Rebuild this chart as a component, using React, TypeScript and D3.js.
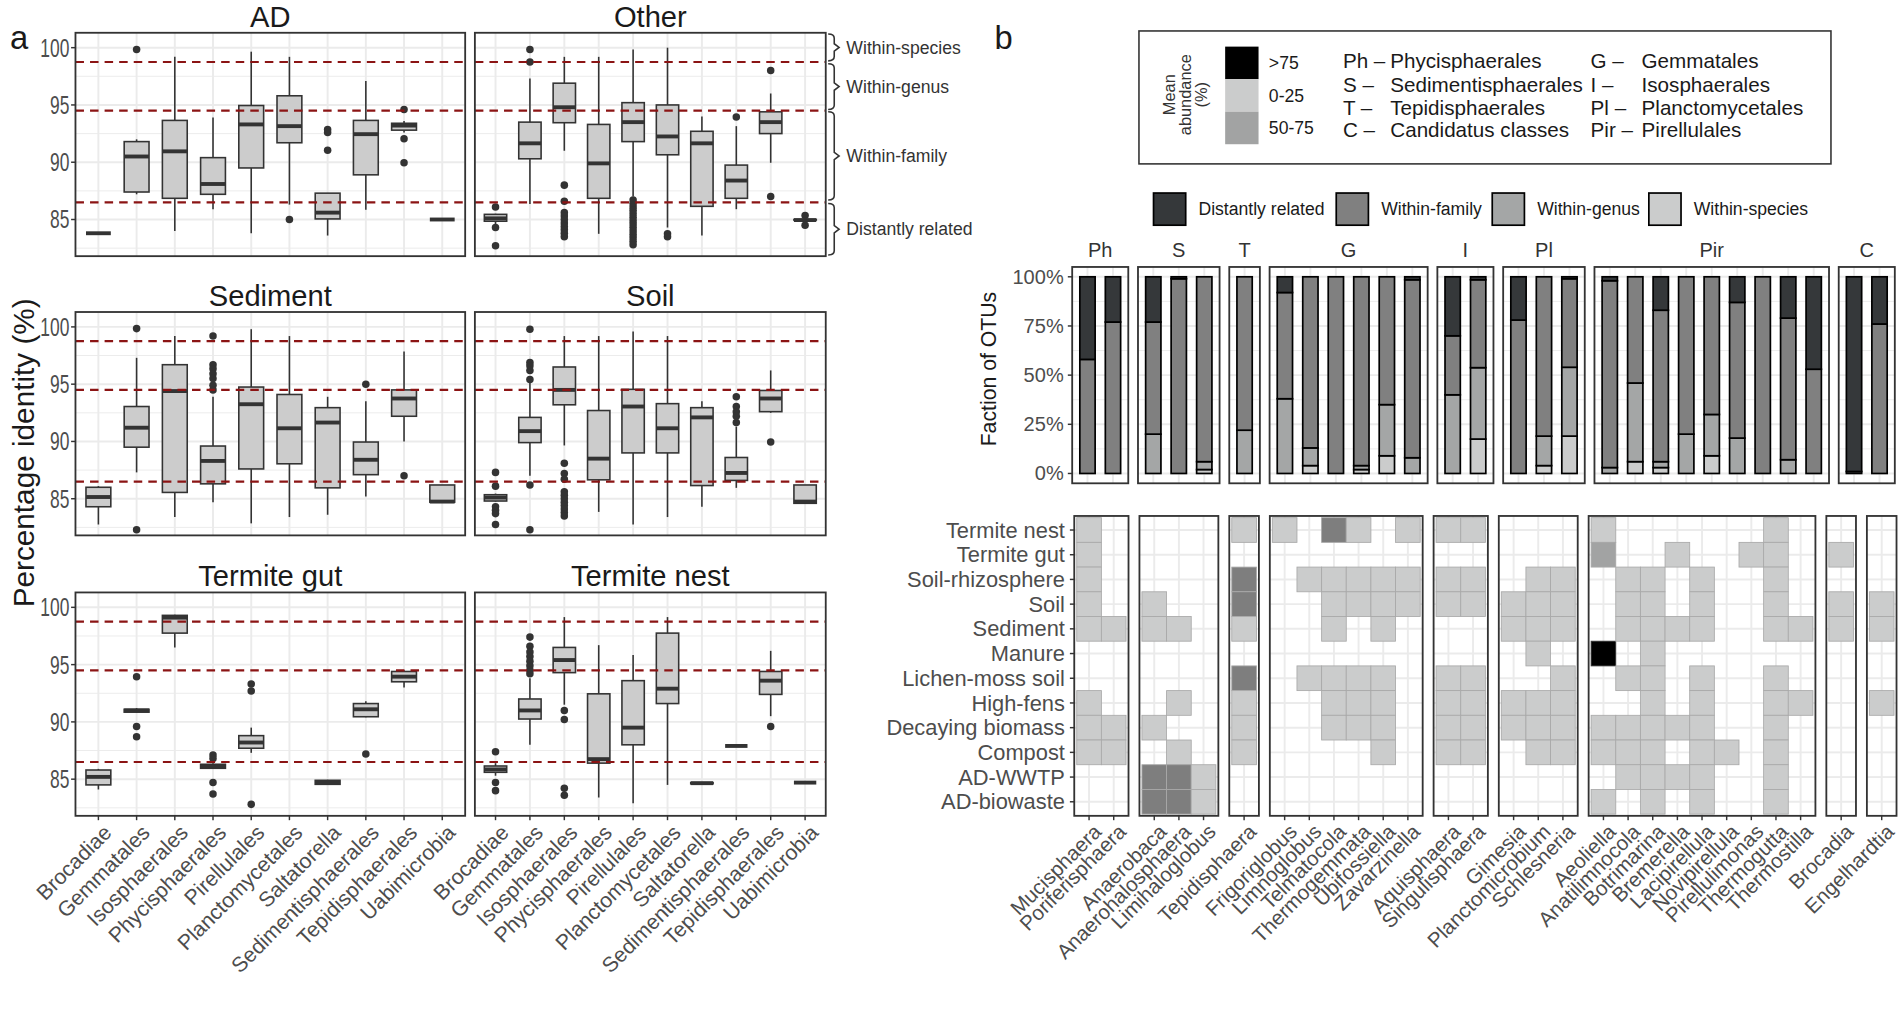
import React, { useEffect, useRef } from 'react';
import * as d3 from 'd3';

// ---- panel a: percentage identity boxplots ----
const orders = ['Brocadiae', 'Gemmatales', 'Isosphaerales', 'Phycisphaerales', 'Pirellulales',
  'Planctomycetales', 'Saltatorella', 'Sedimentisphaerales', 'Tepidisphaerales', 'Uabimicrobia'];

// [lower whisker, q1, median, q3, upper whisker, outliers]
type Stat = [number, number, number, number, number, number[]] | null;

const adStats: Stat[] = [
  [83.8, 83.8, 83.8, 83.8, 83.8, []],
  [87.2, 87.4, 90.5, 91.8, 92.0, [99.85]],
  [84.0, 86.85, 90.95, 93.65, 99.2, []],
  [85.9, 87.2, 88.1, 90.4, 93.9, []],
  [83.8, 89.5, 93.3, 94.95, 99.65, []],
  [86.3, 91.7, 93.15, 95.8, 99.2, [85.0]],
  [83.6, 85.05, 85.6, 87.3, 87.3, [92.85, 92.6, 91.05]],
  [85.85, 88.9, 92.45, 93.65, 97.1, []],
  [92.6, 92.8, 93.2, 93.4, 93.6, [94.6, 92.05, 89.95]],
  [85.0, 85.0, 85.0, 85.0, 85.0, []],
];
const otherStats: Stat[] = [
  [84.6, 84.85, 85.1, 85.45, 85.5, [86.1, 84.3, 82.7]],
  [86.35, 90.3, 91.65, 93.5, 97.3, [99.85, 98.75]],
  [91.0, 93.45, 94.8, 96.9, 99.2, [88.0, 86.6, 85.6, 85.3, 85.0, 84.7, 84.4, 84.1, 83.8, 83.5]],
  [83.75, 86.85, 89.9, 93.3, 99.2, []],
  [87.0, 91.8, 93.5, 95.2, 99.85, [86.7, 86.4, 86.1, 85.8, 85.5, 85.2, 84.9, 84.6, 84.3, 84.0, 83.7, 83.4, 83.1, 82.8]],
  [84.3, 90.65, 92.25, 95.0, 100.0, [83.75, 83.5]],
  [83.6, 86.15, 91.65, 92.7, 94.0, []],
  [85.9, 86.85, 88.4, 89.75, 93.15, [93.95]],
  [89.95, 92.5, 93.5, 94.4, 96.0, [98.0, 87.0]],
  [84.9, 84.95, 84.95, 85.0, 85.05, [85.35, 84.5]],
];
const sedimentStats: Stat[] = [
  [82.75, 84.3, 85.15, 86.0, 86.1, []],
  [87.3, 89.5, 91.2, 93.05, 97.3, [99.85, 82.3]],
  [83.4, 85.55, 94.4, 96.7, 99.2, []],
  [84.7, 86.3, 88.3, 89.6, 93.9, [99.2, 96.7, 96.35, 95.9, 95.5, 94.9, 94.5]],
  [82.85, 87.6, 93.25, 94.75, 99.8, []],
  [83.4, 88.05, 91.15, 94.1, 99.2, []],
  [83.6, 85.95, 91.65, 92.95, 93.9, []],
  [85.2, 87.1, 88.4, 89.95, 93.5, [95.0]],
  [90.0, 92.2, 93.75, 94.5, 97.85, [87.0]],
  [84.7, 84.7, 84.75, 86.2, 86.2, []],
];
const soilStats: Stat[] = [
  [84.75, 84.8, 85.1, 85.35, 85.45, [87.3, 86.1, 84.3, 84.0, 83.7, 82.75]],
  [87.0, 89.9, 90.9, 92.1, 95.1, [99.8, 96.9, 96.6, 96.2, 95.4, 86.2, 82.3]],
  [89.65, 93.2, 94.5, 96.5, 99.2, [88.1, 87.2, 86.7, 85.6, 85.3, 85.0, 84.7, 84.4, 84.1, 83.8, 83.5]],
  [83.85, 86.65, 88.5, 92.7, 99.2, []],
  [82.75, 89.0, 93.05, 94.55, 99.6, []],
  [83.4, 89.0, 91.15, 93.3, 99.2, []],
  [84.3, 86.15, 92.1, 92.95, 93.5, []],
  [85.95, 86.6, 87.25, 88.6, 91.3, [93.9, 93.05, 92.6, 92.2, 91.65]],
  [92.5, 92.6, 93.75, 94.45, 96.2, [89.95]],
  [84.6, 84.6, 84.75, 86.2, 86.2, []],
];
const termiteGutStats: Stat[] = [
  [84.1, 84.5, 85.2, 85.8, 85.9, []],
  [90.8, 90.85, 91.0, 91.1, 91.2, [93.95, 89.6, 88.7]],
  [96.5, 97.75, 99.1, 99.3, 99.35, []],
  [85.9, 85.95, 86.1, 86.3, 86.4, [87.1, 86.8, 84.7, 83.7]],
  [87.3, 87.7, 88.2, 88.8, 89.5, [93.3, 92.7, 82.8]],
  null,
  [84.5, 84.55, 84.7, 84.9, 84.95, []],
  [90.4, 90.45, 91.1, 91.6, 91.8, [87.2]],
  [93.0, 93.5, 93.95, 94.4, 94.5, []],
  null,
];
const termiteNestStats: Stat[] = [
  [85.3, 85.6, 85.85, 86.15, 86.4, [87.4, 84.7, 84.0]],
  [88.0, 90.25, 91.0, 92.0, 93.8, [97.4, 96.6, 96.1, 95.7, 95.3, 94.9, 94.5, 94.2]],
  [91.5, 94.3, 95.4, 96.5, 99.15, [91.0, 90.2, 84.2, 83.6]],
  [83.4, 86.4, 86.75, 92.45, 96.7, []],
  [82.9, 88.0, 89.5, 93.6, 95.85, []],
  [84.5, 91.6, 92.9, 97.75, 99.15, []],
  [84.6, 84.6, 84.65, 84.7, 84.7, []],
  [87.9, 87.9, 87.9, 87.9, 87.9, []],
  [90.5, 92.4, 93.6, 94.4, 96.2, [89.6]],
  [84.7, 84.7, 84.7, 84.7, 84.7, []],
];

const identityTicks = [85, 90, 95, 100];
const identityMinor = [82.5, 87.5, 92.5, 97.5];
const thresholds = [98.75, 94.5, 86.5];
const bandLabels = ['Within-species', 'Within-genus', 'Within-family', 'Distantly related'];
const bandRanges: [number, number][] = [[98.85, 101.2], [94.6, 98.6], [86.7, 94.4], [81.9, 86.4]];

// ---- panel b: genera ----
const genera = ['Mucisphaera', 'Poriferisphaera', 'Anaerobaca', 'Anaerohalosphaera', 'Limihaloglobus',
  'Tepidisphaera', 'Frigoriglobus', 'Limnoglobus', 'Telmatocola', 'Thermogemmata', 'Ubifossiella',
  'Zavarzinella', 'Aquisphaera', 'Singulisphaera', 'Gimesia', 'Planctomicrobium', 'Schlesneria',
  'Aeoliella', 'Anatilimnocola', 'Botrimarina', 'Bremerella', 'Lacipirellula', 'Novipirellula',
  'Pirellulimonas', 'Thermogutta', 'Thermostilla', 'Brocadia', 'Engelhardtia'];
const barFacet = ['Ph', 'Ph', 'S', 'S', 'S', 'T', 'G', 'G', 'G', 'G', 'G', 'G', 'I', 'I', 'Pl', 'Pl', 'Pl',
  'Pir', 'Pir', 'Pir', 'Pir', 'Pir', 'Pir', 'Pir', 'Pir', 'Pir', 'C', 'C'];
const heatFacet = ['Ph', 'Ph', 'S', 'S', 'S', 'T', 'G', 'G', 'G', 'G', 'G', 'G', 'I', 'I', 'Pl', 'Pl', 'Pl',
  'Pir', 'Pir', 'Pir', 'Pir', 'Pir', 'Pir', 'Pir', 'Pir', 'Pir', 'Bro', 'Eng'];

// fraction of OTUs (%)
const distantPct = [42, 23, 23, 1, 0, 0, 8, 0, 0, 0, 0, 1.5, 30, 1.5, 22, 0, 1, 2, 0, 17, 0, 0, 13, 0, 21, 47, 99, 24];
const familyPct = [58, 77, 57, 99, 94, 78, 54, 87, 100, 96, 65, 90.5, 30, 44.7, 78, 81, 45, 95, 54, 77, 80, 70, 69, 100, 72, 53, 1, 76];
const genusPct = [0, 0, 20, 0, 4, 22, 38, 9, 0, 2, 26, 8, 40, 36.3, 0, 15, 35, 3, 40, 3, 20, 21, 18, 0, 7, 0, 0, 0];
const speciesPct = [0, 0, 0, 0, 2, 0, 0, 4, 0, 2, 9, 0, 0, 17.5, 0, 4, 19, 0, 6, 3, 0, 9, 0, 0, 0, 0, 0, 0];
const relatedness = ['Distantly related', 'Within-family', 'Within-genus', 'Within-species'];
const relatedColors = ['#35383a', '#808080', '#a4a6a6', '#cbcccc'];
const fractionTicks = [0, 25, 50, 75, 100];

const habitats = ['Termite nest', 'Termite gut', 'Soil-rhizosphere', 'Soil', 'Sediment', 'Manure',
  'Lichen-moss soil', 'High-fens', 'Decaying biomass', 'Compost', 'AD-WWTP', 'AD-biowaste'];
// abundance class per habitat x genus: 0 none, 1 "0-25", 2 "25-50", 3 "50-75", 4 ">75"
const abundance = [
  [1, 0, 0, 0, 0, 1, 1, 0, 2, 1, 0, 1, 1, 1, 0, 0, 0, 1, 0, 0, 0, 0, 0, 0, 1, 0, 0, 0],
  [1, 0, 0, 0, 0, 0, 0, 0, 0, 0, 0, 0, 0, 0, 0, 0, 0, 3, 0, 0, 1, 0, 0, 1, 1, 0, 1, 0],
  [1, 0, 0, 0, 0, 2, 0, 1, 1, 1, 1, 1, 1, 1, 0, 1, 1, 0, 1, 1, 0, 1, 0, 0, 1, 0, 0, 0],
  [1, 0, 1, 0, 0, 2, 0, 0, 1, 1, 1, 1, 1, 1, 1, 1, 1, 0, 1, 1, 0, 1, 0, 0, 1, 0, 1, 1],
  [1, 1, 1, 1, 0, 1, 0, 0, 1, 0, 1, 0, 0, 0, 1, 1, 1, 0, 1, 1, 1, 1, 0, 0, 1, 1, 1, 1],
  [0, 0, 0, 0, 0, 0, 0, 0, 0, 0, 0, 0, 0, 0, 0, 1, 0, 4, 0, 1, 0, 0, 0, 0, 0, 0, 0, 0],
  [0, 0, 0, 0, 0, 2, 0, 1, 1, 1, 1, 0, 1, 1, 0, 0, 1, 0, 1, 1, 0, 1, 0, 0, 1, 0, 0, 0],
  [1, 0, 0, 1, 0, 1, 0, 0, 1, 1, 1, 0, 1, 1, 1, 1, 1, 0, 0, 1, 0, 1, 0, 0, 1, 1, 0, 1],
  [1, 1, 1, 0, 0, 1, 0, 0, 1, 1, 1, 0, 1, 1, 1, 1, 1, 1, 1, 1, 1, 1, 0, 0, 1, 0, 0, 0],
  [1, 1, 0, 1, 0, 1, 0, 0, 0, 0, 1, 0, 1, 1, 0, 1, 1, 1, 1, 1, 0, 1, 1, 0, 1, 0, 0, 0],
  [0, 0, 2, 2, 1, 0, 0, 0, 0, 0, 0, 0, 0, 0, 0, 0, 0, 0, 1, 1, 1, 1, 0, 0, 1, 0, 0, 0],
  [0, 0, 2, 2, 1, 0, 0, 0, 0, 0, 0, 0, 0, 0, 0, 0, 0, 1, 0, 1, 0, 1, 0, 0, 1, 0, 0, 0],
];
const abundanceColors = ['none', '#cbcccc', '#7e7e7e', '#a2a3a3', '#000000'];
const abundanceLegend = ['>75', '0-25', '50-75'];
const abundanceLegendColors = ['#000000', '#cbcccc', '#a2a3a3'];
const abbrevLeft = [['Ph –', 'Phycisphaerales'], ['S –', 'Sedimentisphaerales'], ['T –', 'Tepidisphaerales'], ['C –', 'Candidatus classes']];
const abbrevRight = [['G –', 'Gemmatales'], ['I –', 'Isosphaerales'], ['Pl –', 'Planctomycetales'], ['Pir –', 'Pirellulales']];

const FONT = '"Liberation Sans", Arial, Helvetica, sans-serif';
const GRID = '#ebebeb';
const BORDER = '#333333';
const AXIS_TEXT = '#4d4d4d';

type Sel = d3.Selection<SVGGElement, unknown, null, undefined>;

function facetLayout(facets: string[], start: number, unit: number, pad: number, gap: number) {
  const names: string[] = [];
  facets.forEach(f => { if (!names.includes(f)) names.push(f); });
  let cursor = start;
  return names.map(name => {
    const members = genera.filter((_, i) => facets[i] === name);
    const width = members.length * unit + 2 * pad;
    const item = { name, members, x0: cursor, width };
    cursor += width + gap;
    return item;
  });
}

function brace(x: number, y0: number, y1: number) {
  const ym = (y0 + y1) / 2;
  return `M${x - 5},${y0} Q${x},${y0} ${x},${y0 + 3.5} V${ym - 3} L${x + 4},${ym} L${x},${ym + 3} V${y1 - 3.5} Q${x},${y1} ${x - 5},${y1}`;
}

function drawPanelA(root: Sel) {
  const g = root.append('g');
  const colX = [62, 391];
  const colW = [321, 289];
  const rowY = [27, 257, 488];
  const ph = 184;
  const facets = [
    { title: 'AD', stats: adStats }, { title: 'Other', stats: otherStats },
    { title: 'Sediment', stats: sedimentStats }, { title: 'Soil', stats: soilStats },
    { title: 'Termite gut', stats: termiteGutStats }, { title: 'Termite nest', stats: termiteNestStats },
  ];
  const xs = colW.map(w => d3.scalePoint<string>().domain(orders).range([0, w]).padding(0.6));
  const y = d3.scaleLinear().domain([81.8, 101.3]).range([ph, 0]);

  g.append('text').attr('x', 8).attr('y', 40).attr('font-size', 27).attr('fill', '#1a1a1a').text('a');
  g.append('text').attr('transform', `translate(28,373) rotate(-90)`).attr('text-anchor', 'middle')
    .attr('font-size', 24.5).attr('fill', '#1a1a1a').text('Percentage identity (%)');

  facets.forEach((f, k) => {
    const col = k % 2, row = Math.floor(k / 2);
    const x = xs[col];
    const pw = colW[col];
    const bw = x.step() * 0.65;
    const p = g.append('g').attr('transform', `translate(${colX[col]},${rowY[row]})`);
    p.append('rect').attr('width', pw).attr('height', ph).attr('fill', '#fff');
    p.selectAll('.minor').data(identityMinor).enter().append('line')
      .attr('x1', 0).attr('x2', pw).attr('y1', d => y(d)).attr('y2', d => y(d))
      .attr('stroke', GRID).attr('stroke-width', 0.8);
    p.selectAll('.major').data(identityTicks).enter().append('line')
      .attr('x1', 0).attr('x2', pw).attr('y1', d => y(d)).attr('y2', d => y(d))
      .attr('stroke', GRID).attr('stroke-width', 1.6);
    p.selectAll('.vgrid').data(orders).enter().append('line')
      .attr('x1', d => x(d)!).attr('x2', d => x(d)!).attr('y1', 0).attr('y2', ph)
      .attr('stroke', GRID).attr('stroke-width', 1.6);

    f.stats.forEach((s, i) => {
      if (!s) return;
      const [lo, q1, med, q3, hi, out] = s;
      const cx = x(orders[i])!;
      const box = p.append('g');
      box.append('line').attr('x1', cx).attr('x2', cx).attr('y1', y(hi)).attr('y2', y(q3))
        .attr('stroke', BORDER).attr('stroke-width', 1.3);
      box.append('line').attr('x1', cx).attr('x2', cx).attr('y1', y(q1)).attr('y2', y(lo))
        .attr('stroke', BORDER).attr('stroke-width', 1.3);
      if (q3 > q1) {
        box.append('rect').attr('x', cx - bw / 2).attr('y', y(q3)).attr('width', bw)
          .attr('height', y(q1) - y(q3)).attr('fill', '#cccccc').attr('stroke', BORDER).attr('stroke-width', 1.3);
      }
      box.append('line').attr('x1', cx - bw / 2).attr('x2', cx + bw / 2).attr('y1', y(med)).attr('y2', y(med))
        .attr('stroke', BORDER).attr('stroke-width', 3.2);
      box.selectAll('circle').data(out).enter().append('circle')
        .attr('cx', cx).attr('cy', d => y(d)).attr('r', 3.1).attr('fill', BORDER);
    });

    p.selectAll('.thr').data(thresholds).enter().append('line')
      .attr('x1', 0).attr('x2', pw).attr('y1', d => y(d)).attr('y2', d => y(d))
      .attr('stroke', '#8b1414').attr('stroke-width', 1.8).attr('stroke-dasharray', '7,5');
    p.append('rect').attr('width', pw).attr('height', ph).attr('fill', 'none')
      .attr('stroke', BORDER).attr('stroke-width', 1.5);

    g.append('text').attr('x', colX[col] + pw / 2).attr('y', rowY[row] - 5).attr('text-anchor', 'middle')
      .attr('font-size', 24).attr('fill', '#1a1a1a').text(f.title);

    if (col === 0) {
      identityTicks.forEach(t => {
        const ty = rowY[row] + y(t);
        g.append('line').attr('x1', colX[0] - 3.6).attr('x2', colX[0]).attr('y1', ty).attr('y2', ty)
          .attr('stroke', BORDER).attr('stroke-width', 1.2);
        g.append('text').attr('transform', `translate(${colX[0] - 5},${ty}) scale(0.7,1)`).attr('dy', '0.36em')
          .attr('text-anchor', 'end').attr('font-size', 20.5).attr('fill', AXIS_TEXT).text(t);
      });
    }
    if (row === 2) {
      orders.forEach(o => {
        const tx = colX[col] + x(o)!;
        const by = rowY[row] + ph;
        g.append('line').attr('x1', tx).attr('x2', tx).attr('y1', by).attr('y2', by + 3.6)
          .attr('stroke', BORDER).attr('stroke-width', 1.2);
        g.append('text').attr('transform', `translate(${tx + 3},${by + 6}) rotate(-45)`)
          .attr('text-anchor', 'end').attr('dy', '0.72em').attr('font-size', 17.5).attr('fill', AXIS_TEXT).text(o);
      });
    }
  });

  // relatedness braces on the right of the top row
  const braceX = 687;
  bandLabels.forEach((label, i) => {
    const [lo, hi] = bandRanges[i];
    const y0 = rowY[0] + y(hi), y1 = rowY[0] + y(lo);
    g.append('path').attr('d', brace(braceX, y0, y1)).attr('fill', 'none')
      .attr('stroke', BORDER).attr('stroke-width', 1.3);
    g.append('text').attr('x', 697).attr('y', (y0 + y1) / 2).attr('dy', '0.35em')
      .attr('font-size', 14.5).attr('fill', '#333').text(label);
  });
}

function drawPanelB(root: Sel) {
  const g = root.append('g');
  g.append('text').attr('x', 819).attr('y', 40).attr('font-size', 27).attr('fill', '#1a1a1a').text('b');

  // abundance / abbreviation legend
  g.append('rect').attr('x', 938).attr('y', 25.5).attr('width', 570).attr('height', 109.5)
    .attr('fill', '#fff').attr('stroke', BORDER).attr('stroke-width', 1.3);
  ['Mean', 'abundance', '(%)'].forEach((line, i) => {
    g.append('text').attr('transform', `translate(${968 + i * 13},78) rotate(-90)`).attr('text-anchor', 'middle')
      .attr('font-size', 13.5).attr('fill', '#333').text(line);
  });
  abundanceLegend.forEach((lab, i) => {
    g.append('rect').attr('x', 1009).attr('y', 38.4 + i * 26.8).attr('width', 27.5).attr('height', 26.8)
      .attr('fill', abundanceLegendColors[i]);
    g.append('text').attr('x', 1045).attr('y', 38.4 + i * 26.8 + 13.4).attr('dy', '0.35em')
      .attr('font-size', 14.5).attr('fill', '#1a1a1a').text(lab);
  });
  const abbrevY = [50, 70, 89, 107];
  abbrevLeft.forEach(([a, n], i) => {
    g.append('text').attr('x', 1106).attr('y', abbrevY[i]).attr('dy', '0.35em').attr('font-size', 17).attr('fill', '#1a1a1a').text(a);
    g.append('text').attr('x', 1145).attr('y', abbrevY[i]).attr('dy', '0.35em').attr('font-size', 17).attr('fill', '#1a1a1a').text(n);
  });
  abbrevRight.forEach(([a, n], i) => {
    g.append('text').attr('x', 1310).attr('y', abbrevY[i]).attr('dy', '0.35em').attr('font-size', 17).attr('fill', '#1a1a1a').text(a);
    g.append('text').attr('x', 1352).attr('y', abbrevY[i]).attr('dy', '0.35em').attr('font-size', 17).attr('fill', '#1a1a1a').text(n);
  });

  // relatedness legend
  const swatchX = [950, 1100.5, 1229, 1358];
  relatedness.forEach((lab, i) => {
    g.append('rect').attr('x', swatchX[i]).attr('y', 159).attr('width', 26.5).attr('height', 26.5)
      .attr('fill', relatedColors[i]).attr('stroke', '#000').attr('stroke-width', 1.4);
    g.append('text').attr('x', swatchX[i] + 37).attr('y', 172.2).attr('dy', '0.35em')
      .attr('font-size', 14.5).attr('fill', '#1a1a1a').text(lab);
  });

  // stacked bars
  const yb = d3.scaleLinear().domain([0, 100]).range([390, 228]);
  const barTop = yb(105), barBottom = yb(-5);
  const unit = 21;
  const barPanels = facetLayout(barFacet, 883, unit, 0.1 * unit, 8);
  const segments = [distantPct, familyPct, genusPct, speciesPct];

  g.append('text').attr('transform', `translate(820,304) rotate(-90)`).attr('text-anchor', 'middle')
    .attr('font-size', 17.5).attr('fill', '#1a1a1a').text('Faction of OTUs');
  fractionTicks.forEach(t => {
    g.append('line').attr('x1', 883 - 3.6).attr('x2', 883).attr('y1', yb(t)).attr('y2', yb(t))
      .attr('stroke', BORDER).attr('stroke-width', 1.2);
    g.append('text').attr('x', 876).attr('y', yb(t)).attr('dy', '0.35em').attr('text-anchor', 'end')
      .attr('font-size', 16.5).attr('fill', AXIS_TEXT).text(`${t}%`);
  });

  barPanels.forEach(pn => {
    const p = g.append('g').attr('transform', `translate(${pn.x0},0)`);
    const xb = d3.scalePoint<string>().domain(pn.members).range([0.6 * unit, (pn.members.length - 0.4) * unit]);
    if (pn.members.length === 1) xb.range([0.6 * unit, 0.6 * unit]);
    p.append('rect').attr('y', barTop).attr('width', pn.width).attr('height', barBottom - barTop).attr('fill', '#fff');
    [12.5, 37.5, 62.5, 87.5].forEach(t => p.append('line').attr('x1', 0).attr('x2', pn.width)
      .attr('y1', yb(t)).attr('y2', yb(t)).attr('stroke', GRID).attr('stroke-width', 0.8));
    fractionTicks.forEach(t => p.append('line').attr('x1', 0).attr('x2', pn.width)
      .attr('y1', yb(t)).attr('y2', yb(t)).attr('stroke', GRID).attr('stroke-width', 1.6));
    pn.members.forEach(m => p.append('line').attr('x1', xb(m)!).attr('x2', xb(m)!)
      .attr('y1', barTop).attr('y2', barBottom).attr('stroke', GRID).attr('stroke-width', 1.6));

    pn.members.forEach(m => {
      const gi = genera.indexOf(m);
      const cx = xb(m)!;
      const bw = unit * 0.6;
      let base = 0;
      // stack from the bottom: species, genus, family, distant
      [3, 2, 1, 0].forEach(s => {
        const v = segments[s][gi];
        if (v <= 0) return;
        p.append('rect').attr('x', cx - bw / 2).attr('y', yb(base + v)).attr('width', bw)
          .attr('height', yb(base) - yb(base + v)).attr('fill', relatedColors[s])
          .attr('stroke', '#000').attr('stroke-width', 1.4);
        base += v;
      });
    });
    p.append('rect').attr('y', barTop).attr('width', pn.width).attr('height', barBottom - barTop)
      .attr('fill', 'none').attr('stroke', BORDER).attr('stroke-width', 1.5);
    g.append('text').attr('x', pn.x0 + pn.width / 2).attr('y', barTop - 8).attr('text-anchor', 'middle')
      .attr('font-size', 16.5).attr('fill', '#333').text(pn.name);
  });

  // heatmap
  const cw = 20.3;
  const heatPanels = facetLayout(heatFacet, 884.7, cw, 2.05, 9);
  const hTop = 425, rowH = 20.35, hPad = 1.4;
  const hBottom = hTop + habitats.length * rowH + 2 * hPad;
  const yh = d3.scaleBand<string>().domain(habitats).range([hTop + hPad, hBottom - hPad]);

  habitats.forEach(h => {
    const cy = yh(h)! + rowH / 2;
    g.append('line').attr('x1', 884.7 - 3.6).attr('x2', 884.7).attr('y1', cy).attr('y2', cy)
      .attr('stroke', BORDER).attr('stroke-width', 1.2);
    g.append('text').attr('x', 877).attr('y', cy).attr('dy', '0.35em').attr('text-anchor', 'end')
      .attr('font-size', 18).attr('fill', AXIS_TEXT).text(h);
  });

  heatPanels.forEach(pn => {
    const p = g.append('g').attr('transform', `translate(${pn.x0},0)`);
    const xh = d3.scaleBand<string>().domain(pn.members).range([2.05, pn.width - 2.05]);
    p.append('rect').attr('y', hTop).attr('width', pn.width).attr('height', hBottom - hTop).attr('fill', '#fff');
    habitats.forEach(h => p.append('line').attr('x1', 0).attr('x2', pn.width)
      .attr('y1', yh(h)! + rowH / 2).attr('y2', yh(h)! + rowH / 2).attr('stroke', GRID).attr('stroke-width', 1.6));
    pn.members.forEach(m => p.append('line').attr('x1', xh(m)! + cw / 2).attr('x2', xh(m)! + cw / 2)
      .attr('y1', hTop).attr('y2', hBottom).attr('stroke', GRID).attr('stroke-width', 1.6));

    pn.members.forEach(m => {
      const gi = genera.indexOf(m);
      habitats.forEach((h, r) => {
        const v = abundance[r][gi];
        if (!v) return;
        p.append('rect').attr('x', xh(m)!).attr('y', yh(h)!).attr('width', xh.bandwidth()).attr('height', yh.bandwidth())
          .attr('fill', abundanceColors[v]).attr('stroke', v === 4 ? '#333' : '#a9a9a9').attr('stroke-width', 0.7);
      });
      const tx = pn.x0 + xh(m)! + cw / 2;
      g.append('line').attr('x1', tx).attr('x2', tx).attr('y1', hBottom).attr('y2', hBottom + 3.6)
        .attr('stroke', BORDER).attr('stroke-width', 1.2);
      g.append('text').attr('transform', `translate(${tx + 2.5},${hBottom + 5.5}) rotate(-45)`)
        .attr('text-anchor', 'end').attr('dy', '0.72em').attr('font-size', 17).attr('fill', AXIS_TEXT).text(m);
    });
    p.append('rect').attr('y', hTop).attr('width', pn.width).attr('height', hBottom - hTop)
      .attr('fill', 'none').attr('stroke', BORDER).attr('stroke-width', 1.5);
  });
}

export default function App() {
  const ref = useRef<SVGSVGElement | null>(null);

  useEffect(() => {
    if (!ref.current) return;
    const svg = d3.select(ref.current);
    svg.selectAll('*').remove();
    const root = svg.append('g') as unknown as Sel;
    drawPanelA(root);
    drawPanelB(root);
  }, []);

  return (
    <svg ref={ref} width={1904} height={1021} viewBox="0 0 1568 841"
      style={{ position: 'absolute', left: 0, top: 0, background: '#fff', fontFamily: FONT }} />
  );
}
